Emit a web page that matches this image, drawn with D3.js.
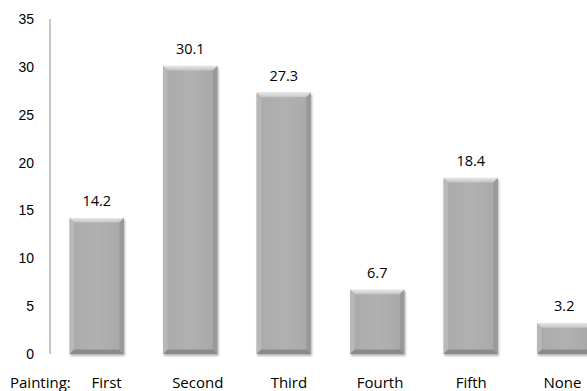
<!DOCTYPE html>
<html>
<head>
<meta charset="utf-8">
<script src="https://cdn.jsdelivr.net/npm/d3@7"></script>
<style>
  body { margin: 0; background: #fff; }
  svg { display: block; font-family: "Open Sans", "Noto Sans", sans-serif; }
</style>
</head>
<body>
<svg id="chart" width="587" height="391"></svg>
<script>
// chart data
const categories = ["First", "Second", "Third", "Fourth", "Fifth", "None"];
const values = [14.2, 30.1, 27.3, 6.7, 18.4, 3.2];
const yTicks = [0, 5, 10, 15, 20, 25, 30, 35];
const axisTitle = "Painting:";

const svg = d3.select("#chart");

const x = d3.scaleBand().domain(categories).range([50, 611]).paddingInner(0.42).paddingOuter(0.21);
const xLabel = d3.scaleBand().domain(categories).range([61, 608]);
const y = d3.scaleLinear().domain([0, 35]).range([354, 19]);

// gradients for the bevelled bars
const defs = svg.append("defs");
const grad = defs.append("linearGradient").attr("id", "barFill").attr("x1", 0).attr("x2", 1).attr("y1", 0).attr("y2", 0);
grad.append("stop").attr("offset", "0%").attr("stop-color", "#aaaaaa");
grad.append("stop").attr("offset", "50%").attr("stop-color", "#b1b1b1");
grad.append("stop").attr("offset", "100%").attr("stop-color", "#a8a8a8");

const topGrad = defs.append("linearGradient").attr("id", "topFill").attr("x1", 0).attr("x2", 0).attr("y1", 0).attr("y2", 1);
topGrad.append("stop").attr("offset", "0%").attr("stop-color", "#e6e6e6");
topGrad.append("stop").attr("offset", "100%").attr("stop-color", "#c4c4c4");

const shadow = defs.append("filter").attr("id", "shadow").attr("x", "-20%").attr("y", "-20%").attr("width", "140%").attr("height", "140%");
shadow.append("feGaussianBlur").attr("in", "SourceAlpha").attr("stdDeviation", 1.2);
shadow.append("feOffset").attr("dx", 1).attr("dy", 1.5).attr("result", "off");
shadow.append("feComponentTransfer").append("feFuncA").attr("type", "linear").attr("slope", 0.3);
const merge = shadow.append("feMerge");
merge.append("feMergeNode");
merge.append("feMergeNode").attr("in", "SourceGraphic");

// y axis
const yAxis = svg.append("g").attr("transform", "translate(50,0)")
  .call(d3.axisLeft(y).tickValues(yTicks).tickSize(0).tickPadding(16));
yAxis.select(".domain").attr("stroke", "#8c8c8c").attr("d", `M0,${y(35)}V${y(0)}`);
yAxis.selectAll("text").attr("font-size", 14).attr("fill", "#000").attr("font-family", "inherit");

// bars
const bev = 4.5;
const bars = svg.append("g").selectAll("g").data(categories).join("g")
  .attr("filter", "url(#shadow)");

bars.each(function(c, i) {
  const g = d3.select(this);
  const x0 = x(c), w = x.bandwidth(), y0 = y(values[i]), h = y(0) - y(values[i]);
  const x1 = x0 + w, y1 = y0 + h;
  g.append("rect").attr("x", x0).attr("y", y0).attr("width", w).attr("height", h).attr("fill", "url(#barFill)");
  // top bevel
  g.append("path").attr("d", `M${x0},${y0}L${x1},${y0}L${x1 - bev},${y0 + bev}L${x0 + bev},${y0 + bev}Z`).attr("fill", "url(#topFill)");
  // left bevel
  g.append("path").attr("d", `M${x0},${y0}L${x0 + bev},${y0 + bev}L${x0 + bev},${y1 - bev}L${x0},${y1}Z`).attr("fill", "#b8b8b8");
  // right bevel
  g.append("path").attr("d", `M${x1},${y0}L${x1 - bev},${y0 + bev}L${x1 - bev},${y1 - bev}L${x1},${y1}Z`).attr("fill", "#999999");
  // bottom bevel
  g.append("path").attr("d", `M${x0},${y1}L${x0 + bev},${y1 - bev}L${x1 - bev},${y1 - bev}L${x1},${y1}Z`).attr("fill", "#8a8a8a");
});

// value labels
svg.append("g").selectAll("text").data(categories).join("text")
  .attr("x", c => x(c) + x.bandwidth() / 2)
  .attr("y", (c, i) => y(values[i]) - 12)
  .attr("text-anchor", "middle")
  .attr("font-size", 14.5)
  .text((c, i) => values[i]);

// category labels
svg.append("g").selectAll("text").data(categories).join("text")
  .attr("x", c => xLabel(c) + xLabel.bandwidth() / 2)
  .attr("y", 388)
  .attr("text-anchor", "middle")
  .attr("font-size", 15)
  .text(c => c);

svg.append("text").attr("x", 10).attr("y", 388).attr("font-size", 15).text(axisTitle);
</script>
</body>
</html>
